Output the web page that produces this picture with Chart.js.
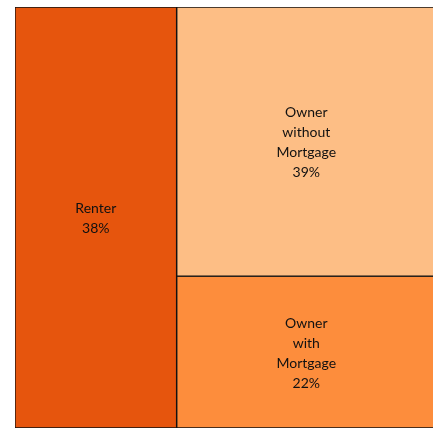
<!DOCTYPE html>
<html>
<head>
<meta charset="utf-8">
<script src="https://cdn.jsdelivr.net/npm/chart.js@4/dist/chart.umd.min.js"></script>
<style>
html,body{margin:0;padding:0;background:#fff;overflow:hidden;}
#wrap{width:436px;height:428px;position:relative;}
</style>
</head>
<body>
<div id="wrap"><canvas id="c"></canvas></div>
<script>
const categories = ['Renter', 'Owner without Mortgage', 'Owner with Mortgage'];
const labelLines = [['Renter'], ['Owner', 'without', 'Mortgage'], ['Owner', 'with', 'Mortgage']];
const values = [38, 39, 22];
const colors = ['#e6550d', '#fdbe85', '#fd8d3c'];

// Simple treemap layout in value units: first item takes a full-height column,
// the remaining items split the rest of the width vertically.
const total = values.reduce((a, b) => a + b, 0);
const rects = [];
rects.push({x0: 0, x1: values[0], y0: 0, y1: total});
const restSum = values.slice(1).reduce((a, b) => a + b, 0);
let yAcc = 0;
for (let i = 1; i < values.length; i++) {
  const h = values[i] / restSum * total;
  rects.push({x0: values[0], x1: total, y0: yAcc, y1: yAcc + h});
  yAcc += h;
}

const datasets = rects.map((r, i) => ({
  label: categories[i],
  data: [
    {x: r.x0, y: r.y0}, {x: r.x1, y: r.y0}, {x: r.x1, y: r.y1}, {x: r.x0, y: r.y1}, {x: r.x0, y: r.y0}
  ],
  showLine: true,
  fill: 'shape',
  backgroundColor: colors[i],
  borderColor: '#111',
  borderWidth: 1.3,
  pointRadius: 0,
  tension: 0
}));

const labelPlugin = {
  id: 'tmLabels',
  afterDatasetsDraw(chart) {
    const ctx = chart.ctx;
    const xs = chart.scales.x, ys = chart.scales.y;
    ctx.save();
    ctx.font = '14px Lato, "DejaVu Sans", sans-serif';
    ctx.fillStyle = '#111';
    ctx.textAlign = 'center';
    ctx.textBaseline = 'middle';
    const lh = 20;
    rects.forEach((r, i) => {
      const cx = (xs.getPixelForValue(r.x0) + xs.getPixelForValue(r.x1)) / 2;
      const cy = (ys.getPixelForValue(r.y0) + ys.getPixelForValue(r.y1)) / 2;
      const lines = labelLines[i].concat([values[i] + '%']);
      const start = cy - (lines.length - 1) * lh / 2 + 1;
      lines.forEach((t, k) => ctx.fillText(t, cx, start + k * lh));
    });
    ctx.restore();
  }
};

new Chart(document.getElementById('c'), {
  type: 'scatter',
  data: {datasets},
  options: {
    responsive: true,
    maintainAspectRatio: false,
    animation: false,
    layout: {padding: {left: 15, top: 7, right: 0, bottom: 0}},
    plugins: {legend: {display: false}, tooltip: {enabled: false}},
    scales: {
      x: {type: 'linear', min: 0, max: total, display: false},
      y: {type: 'linear', min: 0, max: total, reverse: true, display: false}
    }
  },
  plugins: [labelPlugin]
});
</script>
</body>
</html>
